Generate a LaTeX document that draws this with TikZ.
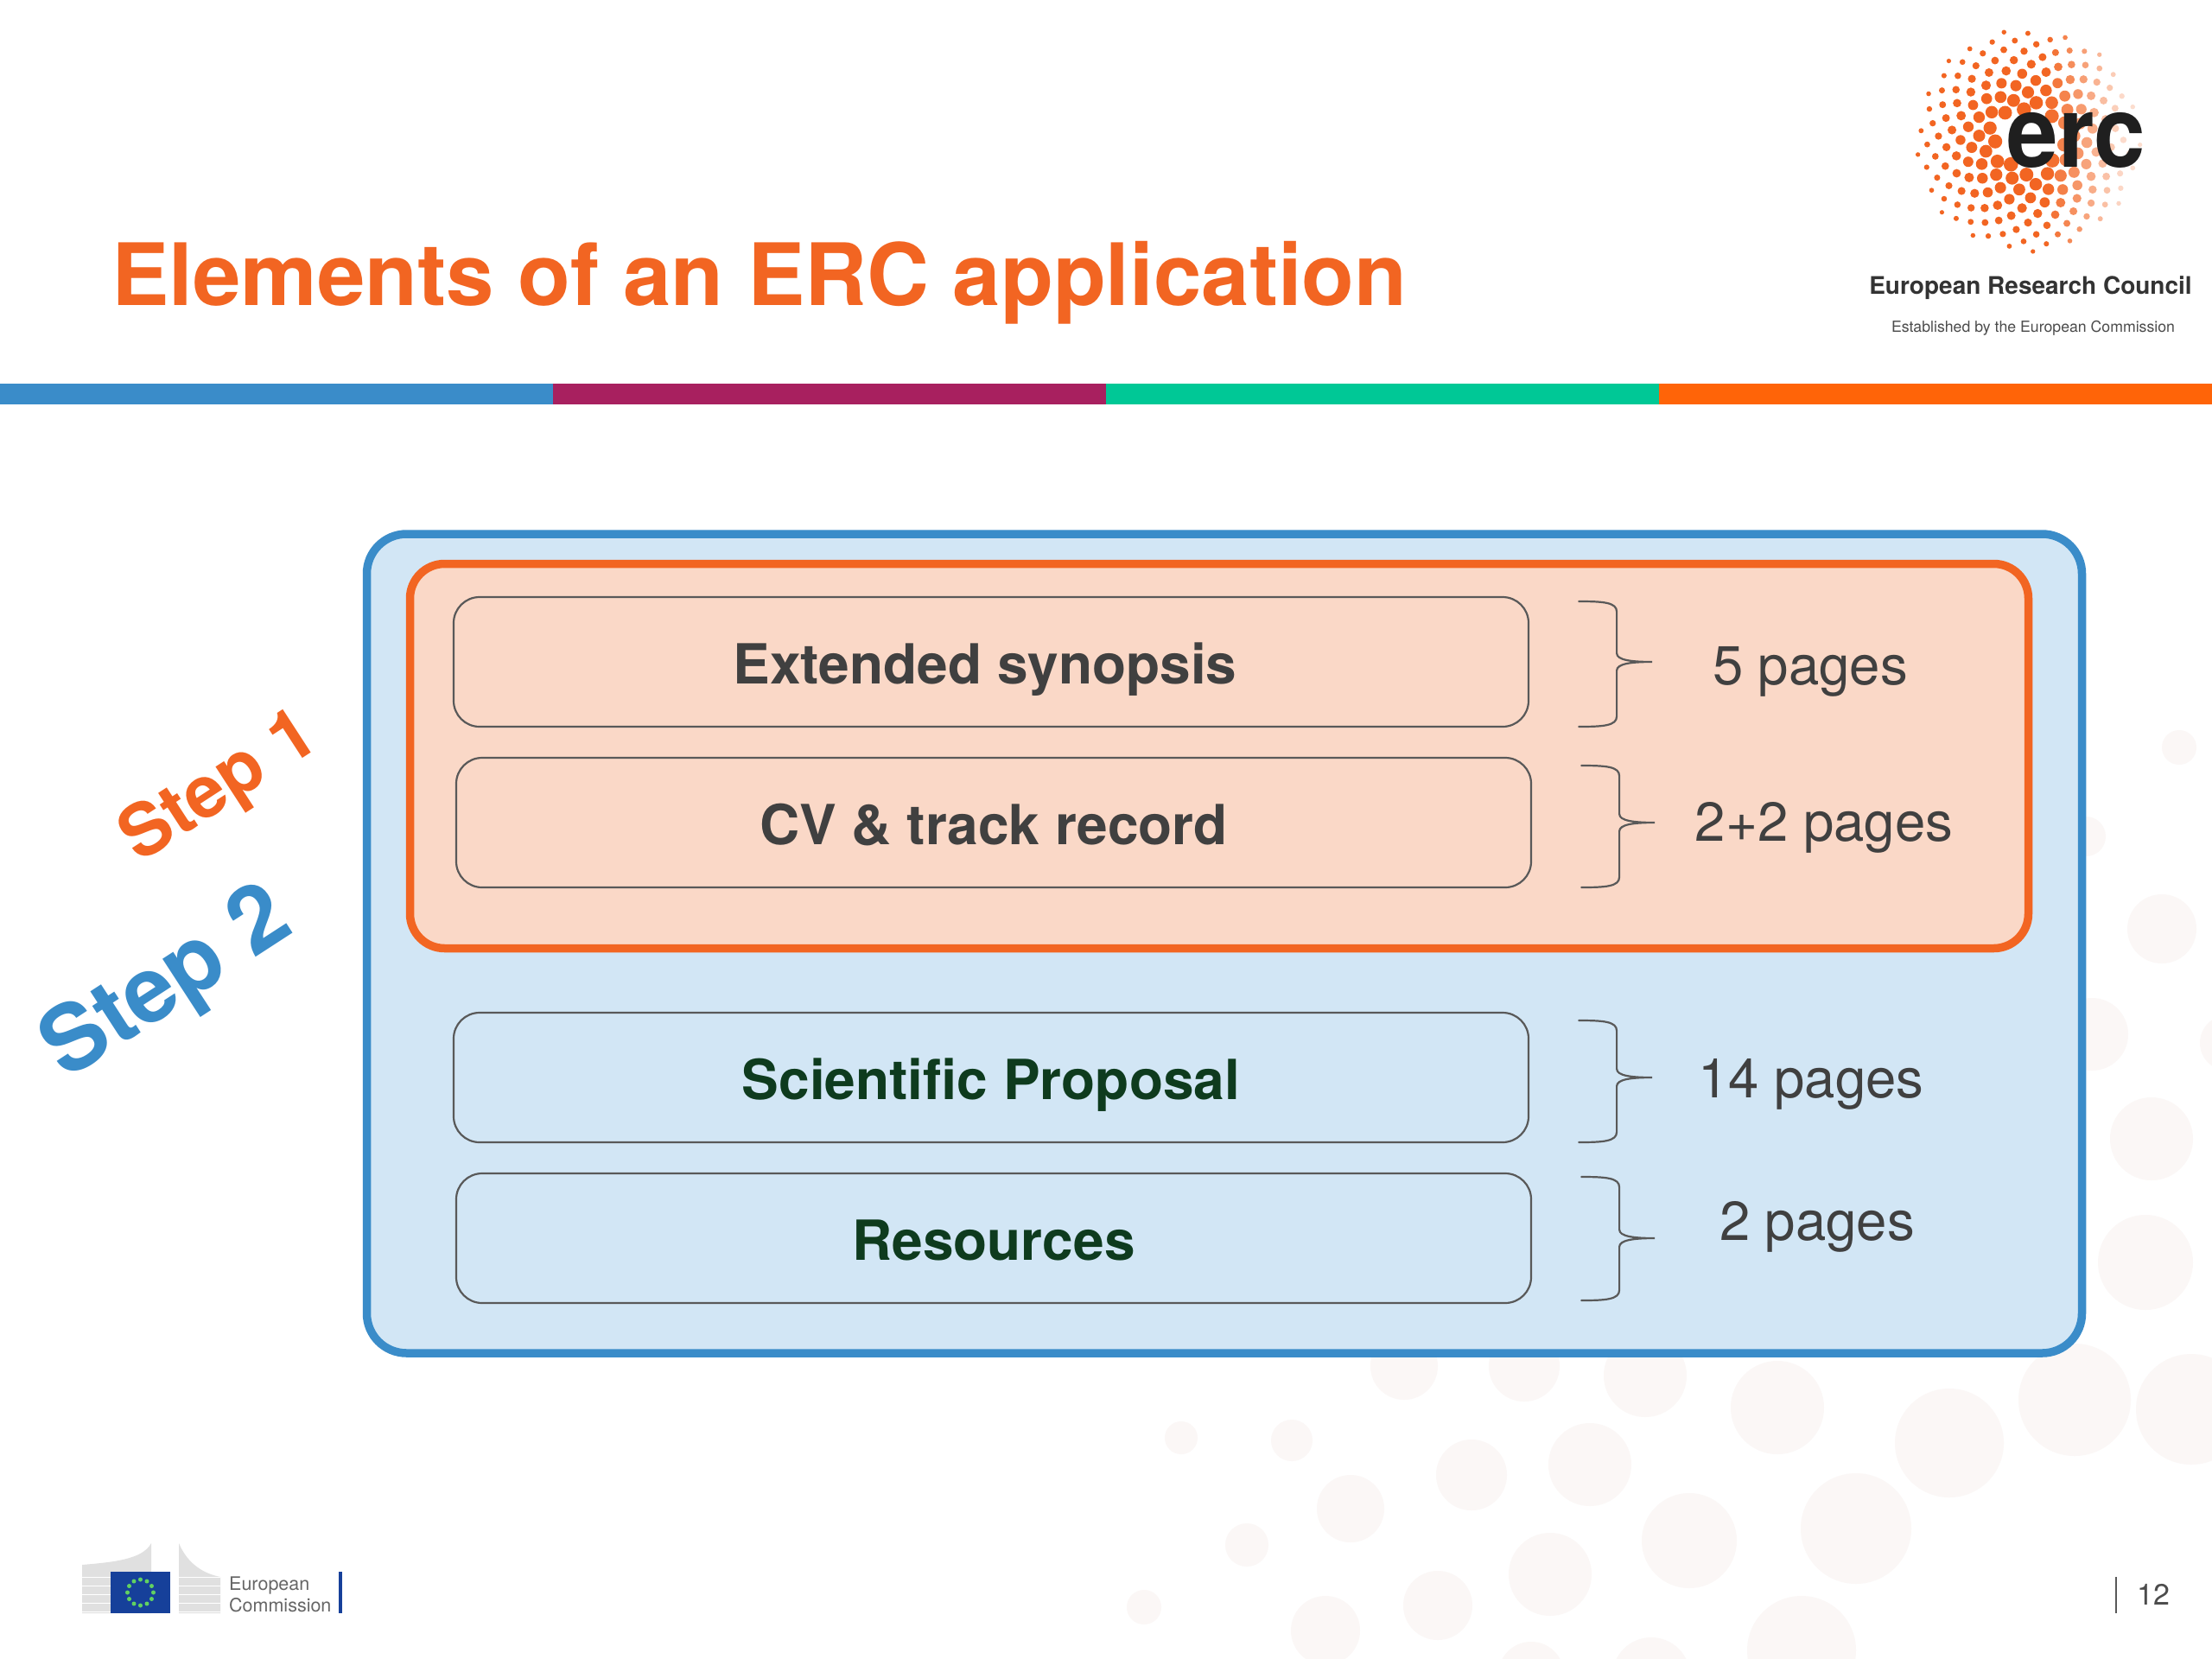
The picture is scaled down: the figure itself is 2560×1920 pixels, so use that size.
\documentclass[tikz,border=0pt]{standalone}
\usepackage{fontspec}
\setmainfont{TeX Gyre Heros}
\usepackage{xcolor}
\usetikzlibrary{calc}
\definecolor{ercblue}{HTML}{3A8CC9}
\definecolor{ercplum}{HTML}{A8205F}
\definecolor{ercgreen}{HTML}{00C896}
\definecolor{ercorange}{HTML}{FF6408}
\definecolor{titleorange}{HTML}{F26522}
\definecolor{paleblue}{HTML}{D2E6F5}
\definecolor{palepeach}{HTML}{FAD8C7}
\definecolor{bubble}{HTML}{FBF7F6}
\definecolor{inktext}{HTML}{404040}
\definecolor{inkgreen}{HTML}{0E3B1E}
\definecolor{ecblue}{HTML}{16409A}
\newcommand{\px}[1]{\fontsize{#1}{#1}\selectfont}
\tikzset{
   partbox/.style={draw=black!65,line width=2.2pt,rounded corners=30pt,minimum width=1244pt,minimum height=150pt,inner sep=0pt,text height=51pt,text depth=0pt,font=\px{64}\bfseries},
   pagecount/.style={text=inktext,inner sep=0pt,font=\px{63.5}},
   pagebrace/.style={draw=black!65,line width=2.2pt,line cap=round},
   steplabel/.style={rotate=33,inner sep=0pt,font=\bfseries}
}
\newcommand{\sidebrace}[3]{% box, top y, bottom y
   \draw[pagebrace] ($(#1.east)+(57,#2)$) .. controls ($(#1.east)+(85,#2)$) and ($(#1.east)+(101,#2+1)$) .. ($(#1.east)+(101,#2+12)$)
      -- ($(#1.east)+(101,-10)$) .. controls ($(#1.east)+(101,-2)$) and ($(#1.east)+(118,0)$) .. ($(#1.east)+(142,0)$)
      .. controls ($(#1.east)+(118,0)$) and ($(#1.east)+(101,2)$) .. ($(#1.east)+(101,10)$)
      -- ($(#1.east)+(101,#3-12)$) .. controls ($(#1.east)+(101,#3-1)$) and ($(#1.east)+(85,#3)$) .. ($(#1.east)+(57,#3)$);
}
\begin{document}
\begin{tikzpicture}[x=1pt,y=-1pt]
   \useasboundingbox (0,0) rectangle (2560,1920);
   \fill[white] (0,0) rectangle (2560,1920);
   % background bubbles
   \foreach \cx/\cy/\rr in {1625/1581/39,1764/1581/41,1904/1592/48,2057/1629/54,2256/1670/63,2401/1620/65,2536/1631/64,
      1495/1667/24,1367/1664/19,1703/1707/41,1840/1695/48,1563/1746/39,1955/1783/55,2148/1769/64,1443/1788/25,
      1794/1822/48,1324/1860/20,1664/1858/40,1534/1887/40,2085/1910/63,1772/1938/38,1911/1940/45,
      2522/865/20,2414/968/23,2502/1075/40,2421/1197/42,2490/1318/48,2483/1461/55,2578/1207/32}
      \fill[bubble] (\cx,\cy) circle (\rr);

   % title and colour bar
   \node[anchor=base west,inner sep=0pt,text=titleorange,font=\px{99.6}\bfseries] (title) at (129,353) {Elements of an ERC application};
   \fill[ercblue] (0,444) rectangle (640,468);
   \fill[ercplum] (640,444) rectangle (1280,468);
   \fill[ercgreen] (1280,444) rectangle (1920,468);
   \fill[ercorange] (1920,444) rectangle (2560,468);

   % logo
   \foreach \n in {14,...,200} {
      \pgfmathsetmacro{\dist}{9.2*sqrt(\n)}
      \pgfmathsetmacro{\ang}{mod(\n*1.375,3.6)*100}
      \pgfmathsetmacro{\dx}{\dist*cos(\ang)}
      \pgfmathsetmacro{\dy}{\dist*sin(\ang)}
      \pgfmathsetmacro{\dotr}{8-(\dist-40)*0.06}
      \pgfmathsetmacro{\mixp}{max(22,min(100,100-(\dx-20)*0.85))}
      \fill[titleorange!\mixp!white] ({2347+\dx},{162+\dy}) circle (\dotr);
   }
   \node[inner sep=0pt,xscale=0.93,transform shape,text=black!88,font=\px{115}\bfseries] (erc) at (2403,162) {erc};
   \node[inner sep=0pt,text=black!80,font=\px{28}\bfseries] (council) at (2350,333) {European Research Council};
   \node[inner sep=0pt,text=black!70,font=\px{17.7}] (established) at (2353,380) {Established by the European Commission};

   % nested frames
   \node[draw=ercblue,fill=paleblue,line width=9.5pt,rounded corners=46pt,minimum width=1985pt,minimum height=948pt,inner sep=0pt] (steptwo) at (1417,1092) {};
   \node[draw=titleorange,fill=palepeach,line width=9.5pt,rounded corners=40pt,minimum width=1873pt,minimum height=445pt,inner sep=0pt] (stepone) at (1411,875) {};

   \node[partbox,text=inktext] (synopsis) at (1147,766) {Extended synopsis\hspace*{14pt}};
   \node[partbox,text=inktext] (cv) at (1150,952) {CV \& track record};
   \node[partbox,text=inkgreen] (proposal) at (1147,1247) {Scientific Proposal};
   \node[partbox,text=inkgreen] (resources) at (1150,1433) {Resources};

   \sidebrace{synopsis}{-70}{75}
   \sidebrace{cv}{-66}{75}
   \sidebrace{proposal}{-66}{75}
   \sidebrace{resources}{-71}{72}

   \node[pagecount] (synopsispages) at (2095,777) {5 pages};
   \node[pagecount] (cvpages) at (2111,958) {2+2 pages};
   \node[pagecount] (proposalpages) at (2096,1255) {14 pages};
   \node[pagecount] (resourcespages) at (2103,1420) {2 pages};

   \node[steplabel,text=titleorange,font=\px{84}\bfseries] (stepa) at (255,913) {Step 1};
   \node[steplabel,text=ercblue,font=\px{106}\bfseries] (stepb) at (195,1141) {Step 2};

   % commission logo
   \fill[black!12] (95,1811) .. controls (130,1808) and (165,1805) .. (175,1786) -- (175,1867) -- (95,1867) -- cycle;
   \fill[black!12] (207,1786) .. controls (215,1805) and (230,1820) .. (255,1825) -- (255,1867) -- (207,1867) -- cycle;
   \foreach \yy in {1825,1835,...,1865} {
      \draw[white,line width=1pt] (95,\yy) -- (255,\yy);
   }
   \fill[ecblue] (128,1819) rectangle (197,1867);
   \foreach \k in {1,...,12}
      \fill[green!55!gray!80!white] ({162.5+15*cos(30*\k)},{1843+15*sin(30*\k)}) circle (2.5);
   \node[anchor=west,inner sep=0pt,text=black!60,font=\px{21.5}] (ecupper) at (265,1835) {European};
   \node[anchor=west,inner sep=0pt,text=black!60,font=\px{21.5}] (eclower) at (265,1858) {Commission};
   \draw[ecblue,line width=4pt] (394,1819) -- (394,1867);

   % page number
   \draw[black!65,line width=2pt] (2449,1825) -- (2449,1867);
   \node[anchor=west,inner sep=0pt,text=black!70,font=\px{34}] (pagenum) at (2473,1845) {12};
\end{tikzpicture}
\end{document}
